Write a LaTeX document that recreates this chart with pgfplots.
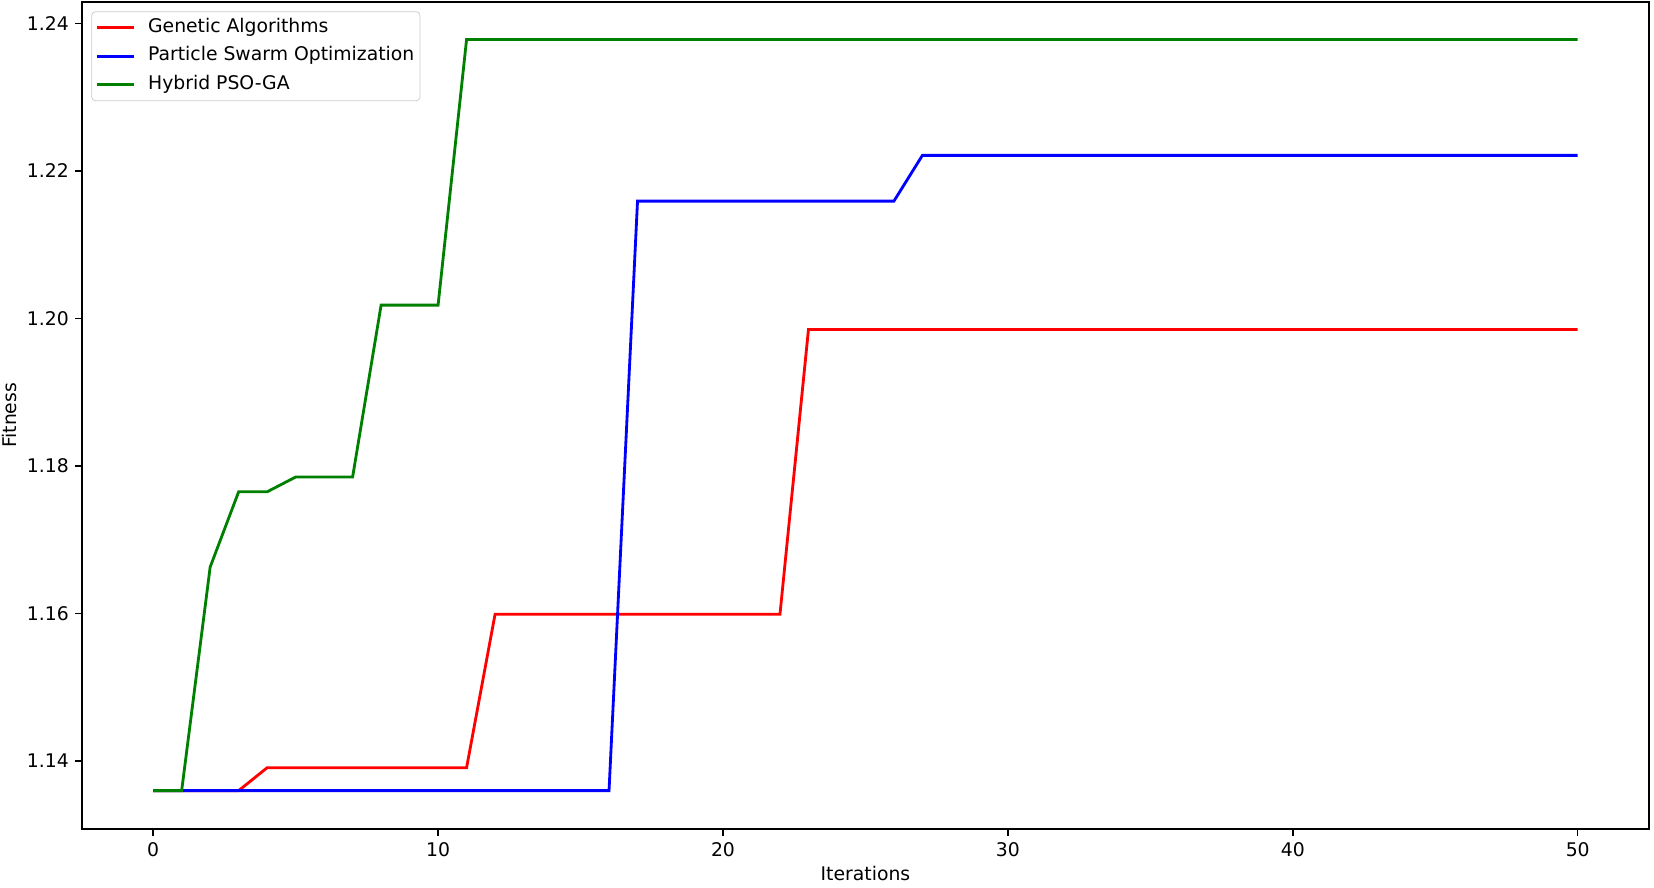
\documentclass[border=0pt]{standalone}
\usepackage{fontspec}
\setmainfont{DejaVu Sans}
\usepackage{pgfplots}
\pgfplotsset{compat=1.18}
\usepackage{pgfplotstable}

% best fitness per iteration
\pgfplotstableread{
it ga pso hyb
0 1.1360 1.1360 1.1360
1 1.1360 1.1360 1.1360
2 1.1360 1.1360 1.1663
3 1.1360 1.1360 1.1765
4 1.1391 1.1360 1.1765
5 1.1391 1.1360 1.1785
6 1.1391 1.1360 1.1785
7 1.1391 1.1360 1.1785
8 1.1391 1.1360 1.2018
9 1.1391 1.1360 1.2018
10 1.1391 1.1360 1.2018
11 1.1391 1.1360 1.2378
12 1.1599 1.1360 1.2378
13 1.1599 1.1360 1.2378
14 1.1599 1.1360 1.2378
15 1.1599 1.1360 1.2378
16 1.1599 1.1360 1.2378
17 1.1599 1.2159 1.2378
18 1.1599 1.2159 1.2378
19 1.1599 1.2159 1.2378
20 1.1599 1.2159 1.2378
21 1.1599 1.2159 1.2378
22 1.1599 1.2159 1.2378
23 1.1985 1.2159 1.2378
24 1.1985 1.2159 1.2378
25 1.1985 1.2159 1.2378
26 1.1985 1.2159 1.2378
27 1.1985 1.2221 1.2378
28 1.1985 1.2221 1.2378
29 1.1985 1.2221 1.2378
30 1.1985 1.2221 1.2378
31 1.1985 1.2221 1.2378
32 1.1985 1.2221 1.2378
33 1.1985 1.2221 1.2378
34 1.1985 1.2221 1.2378
35 1.1985 1.2221 1.2378
36 1.1985 1.2221 1.2378
37 1.1985 1.2221 1.2378
38 1.1985 1.2221 1.2378
39 1.1985 1.2221 1.2378
40 1.1985 1.2221 1.2378
41 1.1985 1.2221 1.2378
42 1.1985 1.2221 1.2378
43 1.1985 1.2221 1.2378
44 1.1985 1.2221 1.2378
45 1.1985 1.2221 1.2378
46 1.1985 1.2221 1.2378
47 1.1985 1.2221 1.2378
48 1.1985 1.2221 1.2378
49 1.1985 1.2221 1.2378
50 1.1985 1.2221 1.2378
}\fitness

\definecolor{mplgreen}{RGB}{0,128,0}

\begin{document}
\begin{tikzpicture}
\begin{axis}[
  scale only axis,
  width=833.6pt, height=440pt,
  xmin=-2.5, xmax=52.5,
  ymin=1.1308, ymax=1.2429,
  xtick={0,10,20,30,40,50},
  ytick={1.14,1.16,1.18,1.20,1.22,1.24},
  yticklabel style={/pgf/number format/.cd, fixed, fixed zerofill, precision=2},
  /pgf/number format/assume math mode=true,
  tick align=outside, tick pos=left,
  major tick length=3.5pt,
  every tick/.style={black, line width=0.8pt},
  axis line style={line width=0.8pt},
  xlabel={Iterations}, ylabel={Fitness},
  every axis x label/.style={at={(axis description cs:0.5,-0.045)}, anchor=north, inner sep=0pt},
  every axis y label/.style={at={(axis description cs:-0.0415,0.5)}, anchor=base, rotate=90, inner sep=0pt},
  legend cell align=left,
  legend image code/.code={\draw[#1] (0pt,0pt) -- (20pt,0pt);},
  legend style={at={(0,1)}, anchor=north west, xshift=5pt, yshift=-5pt,
    draw=black!20, rounded corners=2pt, fill=white, fill opacity=0.8, text opacity=1,
    inner xsep=2pt, inner ysep=2.5pt, row sep=3.2pt, column sep=5.5pt,
    nodes={inner sep=1pt, text height=7.5pt, text depth=2.5pt}},
]
\addplot[red, line width=1.5pt] table[x=it, y=ga] {\fitness};
\addlegendentry{Genetic Algorithms}
\addplot[blue, line width=1.5pt] table[x=it, y=pso] {\fitness};
\addlegendentry{Particle Swarm Optimization}
\addplot[mplgreen, line width=1.5pt] table[x=it, y=hyb] {\fitness};
\addlegendentry{Hybrid PSO-GA}
\end{axis}
\pgfresetboundingbox
\useasboundingbox ([xshift=-43.6pt,yshift=-31pt]current axis.south west) rectangle ([xshift=2.7pt,yshift=1pt]current axis.north east);
\end{tikzpicture}
\end{document}
